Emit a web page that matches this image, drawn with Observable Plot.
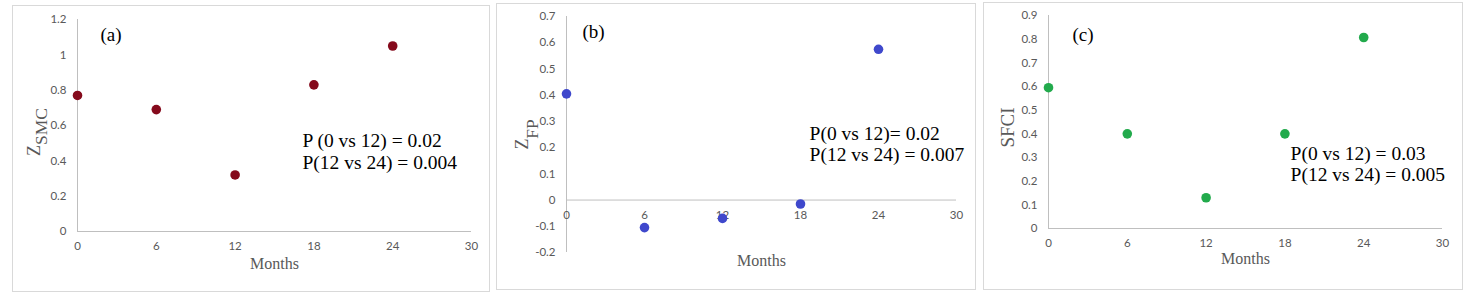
<!DOCTYPE html>
<html><head><meta charset="utf-8">
<script src="https://cdn.jsdelivr.net/npm/d3@7"></script>
<script src="https://cdn.jsdelivr.net/npm/@observablehq/plot@0.6"></script>
<style>
body{margin:0;background:#fff;width:1467px;height:301px;position:relative;overflow:hidden}
.panel{position:absolute;border:1px solid #d9d9d9;background:#fff}
.panel svg{display:block;overflow:visible}
</style></head><body>
<div id="pa" class="panel" style="left:12px;top:5px;width:476px;height:285px"></div>
<div id="pb" class="panel" style="left:496px;top:3px;width:478px;height:285px"></div>
<div id="pc" class="panel" style="left:983px;top:2px;width:478px;height:286px"></div>
<script>
// ---- data ----
const months = [0, 6, 12, 18, 24];
const zSMC = [0.77, 0.69, 0.32, 0.83, 1.05];
const zFP = [0.405, -0.105, -0.07, -0.015, 0.575];
const sfci = [0.595, 0.40, 0.13, 0.40, 0.807];
const xTicks = [0, 6, 12, 18, 24, 30];
const yTicksA = [0, 0.2, 0.4, 0.6, 0.8, 1, 1.2];
const yTicksB = [-0.2, -0.1, 0, 0.1, 0.2, 0.3, 0.4, 0.5, 0.6, 0.7];
const yTicksC = [0, 0.1, 0.2, 0.3, 0.4, 0.5, 0.6, 0.7, 0.8, 0.9];
const panelTags = ["(a)", "(b)", "(c)"];
const pTexts = [
  "P (0 vs 12) = 0.02\nP(12 vs 24) = 0.004",
  "P(0 vs 12)= 0.02\nP(12 vs 24) = 0.007",
  "P(0 vs 12) = 0.03\nP(12 vs 24) = 0.005"
];
const xLabel = "Months";

const SERIF = "'Liberation Serif', 'Times New Roman', serif";
const SANS = "Lato, 'Open Sans', sans-serif";
const GRAY = "#595959";
const AXIS = "#bfbfbf";

function panel(el, o) {
  const data = months.map((m, i) => ({m, v: o.values[i]}));
  const marks = [
    Plot.ruleY([0], {stroke: AXIS, strokeWidth: 1}),
    Plot.ruleX([0], {stroke: AXIS, strokeWidth: 1}),
    Plot.axisY({ticks: o.yTicks, tickSize: 0, tickPadding: 11, tickFormat: d => String(d),
      fontSize: 11.5, fontFamily: SANS, fill: GRAY, label: null}),
    Plot.text(xTicks, {x: d => d, y: 0, dy: 15, text: d => String(d), fontSize: 11.5, fontFamily: SANS, fill: GRAY}),
    Plot.text([xLabel], {frameAnchor: "bottom", dy: o.monthsDy, text: d => d, fontSize: 16, fontFamily: SERIF, fill: GRAY}),
    Plot.dot(data, {x: "m", y: "v", r: 4.8, fill: o.color, stroke: "none"}),
    Plot.text([o.tag], {x: o.tagPos[0], y: o.tagPos[1], text: d => d, textAnchor: "start", lineAnchor: "middle",
      fontSize: 19, fontFamily: SERIF, fill: "#000"}),
    Plot.text([o.ptext], {x: o.pPos[0], y: o.pPos[1], text: d => d, textAnchor: "start", lineAnchor: "middle",
      lineHeight: 1.1, fontSize: 19.5, fontFamily: SERIF, fill: "#000"})
  ];
  for (const lab of o.ylabels) {
    marks.push(Plot.text([lab.t], {frameAnchor: "left", textAnchor: "middle", lineAnchor: "middle", rotate: -90,
      dx: lab.dx, dy: lab.dy, text: d => d, fontSize: lab.fs, fontFamily: SERIF, fill: GRAY}));
  }
  const chart = Plot.plot({
    width: o.w, height: o.h,
    marginLeft: o.m[0], marginRight: o.m[1], marginTop: o.m[2], marginBottom: o.m[3],
    x: {domain: [0, 30], axis: null},
    y: {domain: o.yDomain, axis: null},
    style: {background: "#fff", color: GRAY, overflow: "visible"},
    marks
  });
  document.getElementById(el).appendChild(chart);
}

panel("pa", {
  values: zSMC, color: "#850a1c", yDomain: [0, 1.2], yTicks: yTicksA,
  w: 476, h: 285, m: [64, 18, 13, 60], monthsDy: 37,
  tag: panelTags[0], tagPos: [1.75, 1.11], ptext: pTexts[0], pPos: [17.13, 0.456],
  ylabels: [{t: "Z", dx: -43, dy: 25, fs: 18}, {t: "SMC", dx: -36, dy: 1, fs: 17.5}]
});
panel("pb", {
  values: zFP, color: "#3f48cc", yDomain: [-0.2, 0.7], yTicks: yTicksB,
  w: 478, h: 285, m: [69, 19, 12, 37], monthsDy: 13,
  tag: panelTags[1], tagPos: [1.23, 0.64], ptext: pTexts[1], pPos: [18.7, 0.215],
  ylabels: [{t: "Z", dx: -44, dy: 9.5, fs: 18}, {t: "FP", dx: -34, dy: -5.5, fs: 17.5}]
});
panel("pc", {
  values: sfci, color: "#22aa4c", yDomain: [0, 0.9], yTicks: yTicksC,
  w: 478, h: 286, m: [64, 20, 12, 61], monthsDy: 35,
  tag: panelTags[2], tagPos: [1.83, 0.82], ptext: pTexts[2], pPos: [18.43, 0.275],
  ylabels: [{t: "SFCI", dx: -41, dy: 5.5, fs: 19}]
});
</script>
</body></html>
